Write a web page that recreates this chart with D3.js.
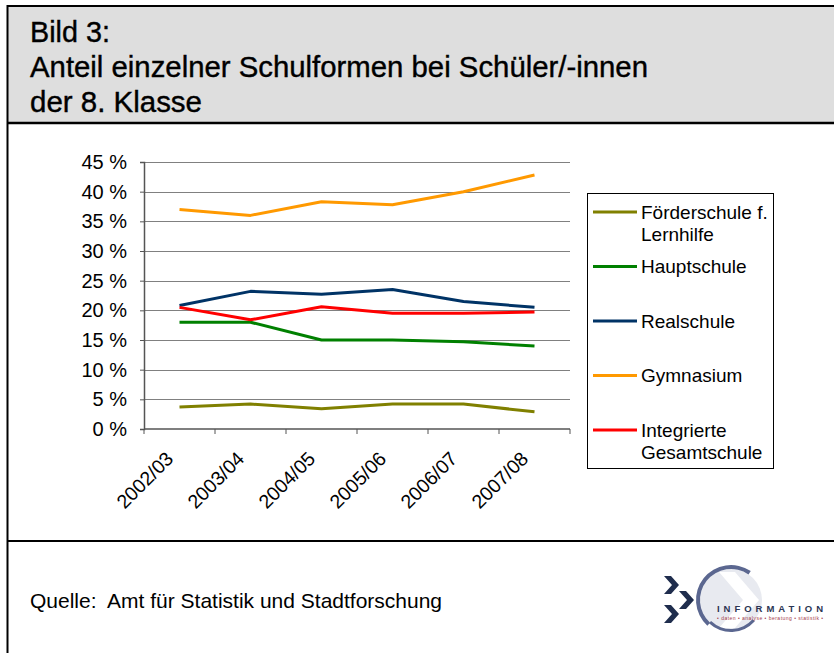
<!DOCTYPE html>
<html>
<head>
<meta charset="utf-8">
<script src="https://cdn.jsdelivr.net/npm/d3@7"></script>
<style>
  body { margin: 0; background: #fff; }
  svg { display: block; font-family: "Liberation Sans", Arial, sans-serif; }
</style>
</head>
<body>
<div id="chart"></div>
<script>
const svgWidth = 834
const svgHeight = 653

// data (percent)
const years = ["2002/03", "2003/04", "2004/05", "2005/06", "2006/07", "2007/08"]
const foerderschule = [3.7, 4.2, 3.4, 4.2, 4.2, 2.9]
const hauptschule = [18.0, 18.0, 15.0, 15.0, 14.7, 14.0]
const realschule = [20.8, 23.2, 22.7, 23.5, 21.5, 20.5]
const gymnasium = [37.0, 36.0, 38.3, 37.8, 40.0, 42.8]
const gesamtschule = [20.5, 18.4, 20.6, 19.5, 19.5, 19.7]
const yTicks = [0, 5, 10, 15, 20, 25, 30, 35, 40, 45]

const seriesNames = [["Förderschule f.", "Lernhilfe"], ["Hauptschule"], ["Realschule"], ["Gymnasium"], ["Integrierte", "Gesamtschule"]]
const seriesValues = [foerderschule, hauptschule, realschule, gymnasium, gesamtschule]
const seriesColors = ["#808000", "#008000", "#003366", "#ff9900", "#ff0000"]

let svg = d3.select("#chart")
  .append("svg")
  .attr("width", svgWidth)
  .attr("height", svgHeight)

// frame: grey title panel, chart panel, source panel
svg.append("rect")
  .attr("x", 7).attr("y", 6)
  .attr("width", svgWidth).attr("height", 117)
  .attr("fill", "#dedede")

svg.append("path")
  .attr("d", `M${svgWidth},6 H7.5 V${svgHeight}`)
  .attr("fill", "none").attr("stroke", "#000").attr("stroke-width", 2)
svg.append("line")
  .attr("x1", 7).attr("x2", svgWidth).attr("y1", 123).attr("y2", 123)
  .attr("stroke", "#000").attr("stroke-width", 2.5)
svg.append("line")
  .attr("x1", 7).attr("x2", svgWidth).attr("y1", 541).attr("y2", 541)
  .attr("stroke", "#000").attr("stroke-width", 2)

// title (condensed like the original)
let titleLines = ["Bild 3:", "Anteil einzelner Schulformen bei Schüler/-innen", "der 8. Klasse"]
let titleWidths = [80, 618, 172]
svg.append("g")
  .selectAll("text")
  .data(titleLines)
  .enter()
  .append("text")
  .attr("x", 30)
  .attr("y", (d, i) => 42 + i * 35)
  .attr("font-family", "'Liberation Sans Narrow', 'Liberation Sans', Arial, sans-serif")
  .attr("font-size", "30px")
  .attr("textLength", (d, i) => titleWidths[i])
  .attr("lengthAdjust", "spacingAndGlyphs")
  .attr("fill", "#000")
  .attr("stroke", "#000")
  .attr("stroke-width", 0.4)
  .text(d => d)

// plot area
let margin = { top: 162, left: 144 }
let width = 426
let height = 267

let chartGroup = svg.append("g")
  .attr("transform", `translate(${margin.left}, ${margin.top})`)

let x = d3.scaleBand().domain(years).range([0, width])
let y = d3.scaleLinear().domain([0, 45]).range([height, 0])

// gridlines
chartGroup.append("g")
  .selectAll("line")
  .data(yTicks.slice(1))
  .enter()
  .append("line")
  .attr("x1", 0).attr("x2", width)
  .attr("y1", d => Math.round(y(d)) + 0.5).attr("y2", d => Math.round(y(d)) + 0.5)
  .attr("stroke", "#808080")
  .attr("stroke-width", 1)

// y axis
let leftAxis = d3.axisLeft(y)
  .tickValues(yTicks)
  .tickSize(4)
  .tickPadding(13)
  .tickFormat(d => d + "\u00a0%")
let yAxis = chartGroup.append("g").call(leftAxis)
yAxis.select(".domain").attr("stroke", "#555").attr("stroke-width", 1.5)
yAxis.selectAll(".tick line").attr("stroke", "#555")
yAxis.selectAll("text").attr("font-size", "20px").attr("fill", "#000")
  .attr("font-family", "Liberation Sans, Arial, sans-serif")

// x axis (ticks between categories)
let xAxis = chartGroup.append("g").attr("transform", `translate(0, ${height})`)
xAxis.append("line")
  .attr("x1", 0).attr("x2", width)
  .attr("stroke", "#555").attr("stroke-width", 1.5)
xAxis.selectAll(".xtick")
  .data(years)
  .enter()
  .append("line")
  .attr("class", "xtick")
  .attr("x1", d => x(d)).attr("x2", d => x(d))
  .attr("y1", 0).attr("y2", 5)
  .attr("stroke", "#555")
xAxis.append("line")
  .attr("x1", width).attr("x2", width).attr("y1", 0).attr("y2", 5)
  .attr("stroke", "#555")
xAxis.selectAll(".xlabel")
  .data(years)
  .enter()
  .append("text")
  .attr("class", "xlabel")
  .attr("transform", d => `translate(${x(d) + x.bandwidth() / 2 - 5}, 31) rotate(-45)`)
  .attr("text-anchor", "end")
  .attr("font-size", "19.5px")
  .text(d => d)

// lines
let line = d3.line()
  .x((d, i) => x(years[i]) + x.bandwidth() / 2)
  .y(d => y(d))

chartGroup.append("g")
  .selectAll("path")
  .data(seriesValues)
  .enter()
  .append("path")
  .attr("d", d => line(d))
  .attr("fill", "none")
  .attr("stroke", (d, i) => seriesColors[i])
  .attr("stroke-width", 3)
  .attr("stroke-linejoin", "round")

// legend
let legend = svg.append("g").attr("transform", "translate(587, 193)")
legend.append("rect")
  .attr("x", 0.5).attr("y", 0.5)
  .attr("width", 186).attr("height", 275)
  .attr("fill", "#fff").attr("stroke", "#000")

let legendItems = legend.selectAll(".item")
  .data(seriesNames)
  .enter()
  .append("g")
  .attr("class", "item")
  .attr("transform", (d, i) => `translate(0, ${19 + i * 54.5})`)

legendItems.append("line")
  .attr("x1", 6).attr("x2", 50)
  .attr("stroke", (d, i) => seriesColors[i])
  .attr("stroke-width", 3)

legendItems.selectAll("text")
  .data(d => d)
  .enter()
  .append("text")
  .attr("x", 54)
  .attr("y", (d, i) => 6.5 + i * 22)
  .attr("font-size", "19px")
  .text(d => d)

// source
svg.append("text")
  .attr("x", 30).attr("y", 608)
  .attr("font-size", "21px")
  .attr("xml:space", "preserve")
  .text("Quelle:  Amt für Statistik und Stadtforschung")

// logo
let logo = svg.append("g").attr("transform", "translate(731, 600)")
logo.append("circle").attr("r", 31).attr("fill", "#e8eaf0")
logo.append("path")
  .attr("d", "M-12,-28 L12,0 L-12,28 L4,28 L28,0 L4,-28 Z")
  .attr("fill", "#fff")
let arc = d3.arc()
logo.append("path")
  .attr("d", arc({ innerRadius: 31, outerRadius: 35, startAngle: -2.4, endAngle: 0.6 }))
  .attr("fill", "#5b6790")
logo.append("path")
  .attr("d", arc({ innerRadius: 29, outerRadius: 32, startAngle: 2.3, endAngle: 3.9 }))
  .attr("fill", "#5b6790")
let chev = "M0,0 L7,0 L15,9 L7,18 L0,18 L8,9 Z"
;[[-67, -24], [-67, 5], [-52, -9]].forEach(p => {
  logo.append("path")
    .attr("d", chev)
    .attr("transform", `translate(${p[0]}, ${p[1]})`)
    .attr("fill", "#1f2d4d")
})
logo.append("text")
  .attr("x", -14).attr("y", 12)
  .attr("font-size", "9.5px").attr("font-weight", "bold")
  .attr("textLength", 106)
  .attr("fill", "#2b3553")
  .text("INFORMATION")
logo.append("text")
  .attr("x", -14).attr("y", 19.5)
  .attr("font-size", "5px")
  .attr("textLength", 106)
  .attr("fill", "#a33a4a")
  .text("• daten • analyse • beratung • statistik •")
</script>
</body>
</html>
